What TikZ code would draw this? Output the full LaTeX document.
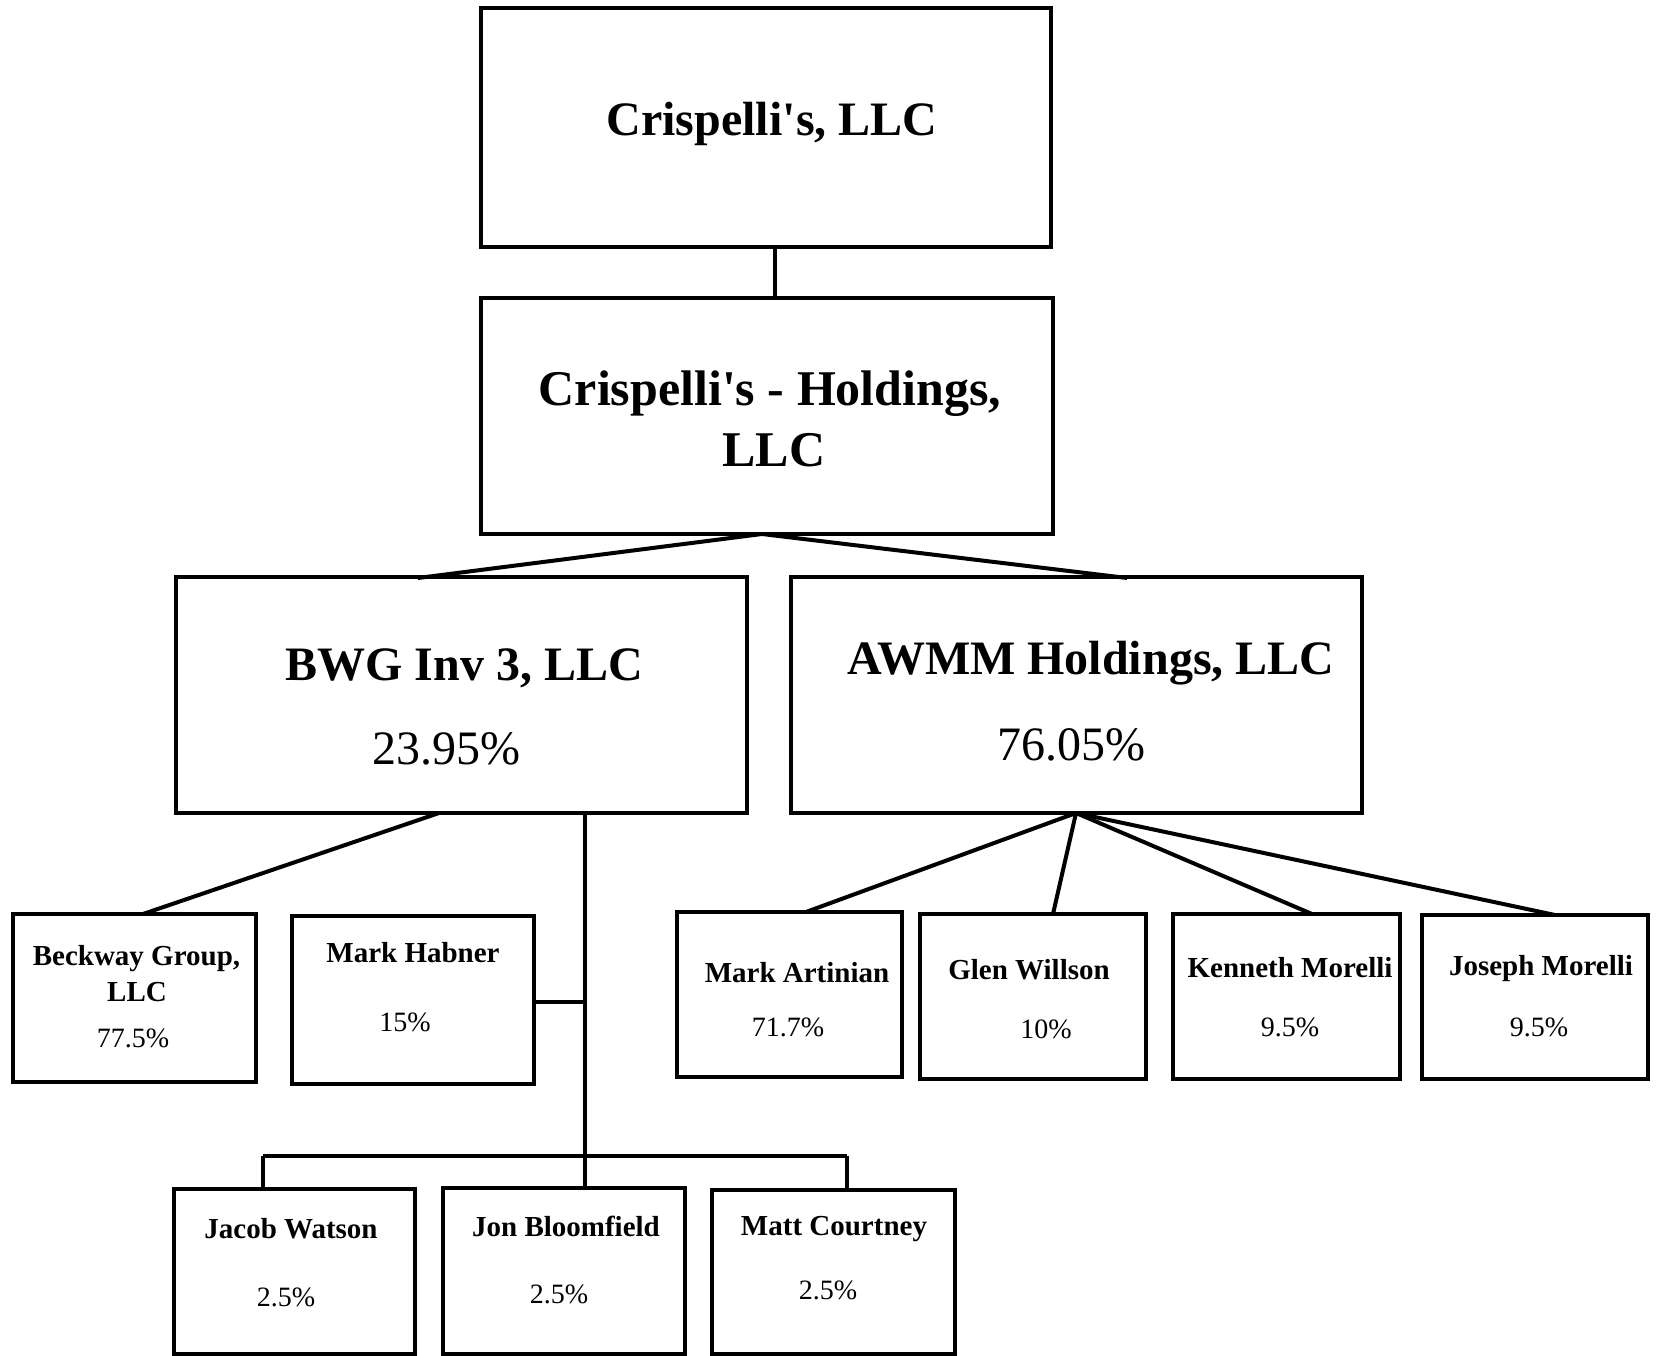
\documentclass[tikz,border=0pt]{standalone}
\usepackage{fontspec}
\setmainfont{Liberation Serif}
\begin{document}
\begin{tikzpicture}[x=1pt,y=-1pt,
  box/.style={draw,line width=3.5pt,inner sep=0pt},
  conn/.style={line width=4pt},
  bigname/.style={anchor=base,inner sep=0pt,font=\fontsize{48}{58}\selectfont\bfseries},
  bigpct/.style={anchor=base,inner sep=0pt,font=\fontsize{48}{58}\selectfont},
  smallname/.style={anchor=base,inner sep=0pt,font=\fontsize{29}{35}\selectfont\bfseries},
  smallpct/.style={anchor=base,inner sep=0pt,font=\fontsize{28}{34}\selectfont}]
\useasboundingbox[fill=white] (0,0) rectangle (1659,1356);

% boxes
\node[box,minimum width=570pt,minimum height=239pt] (top) at (766,127.5) {};
\node[box,minimum width=572pt,minimum height=236pt] (hold) at (767,416) {};
\node[box,minimum width=571pt,minimum height=236pt] (bwg) at (461.5,695) {};
\node[box,minimum width=571pt,minimum height=236pt] (awmm) at (1076.5,695) {};
\node[box,minimum width=243pt,minimum height=168pt] (beck) at (134.5,998) {};
\node[box,minimum width=242pt,minimum height=168pt] (habn) at (413,1000) {};
\node[box,minimum width=241pt,minimum height=165pt] (jacob) at (294.5,1271.5) {};
\node[box,minimum width=242pt,minimum height=166pt] (jon) at (564,1271) {};
\node[box,minimum width=243pt,minimum height=164pt] (matt) at (833.5,1272) {};
\node[box,minimum width=225pt,minimum height=165pt] (arti) at (789.5,994.5) {};
\node[box,minimum width=226pt,minimum height=165pt] (glen) at (1033,996.5) {};
\node[box,minimum width=227pt,minimum height=165pt] (kenn) at (1286.5,996.5) {};
\node[box,minimum width=226pt,minimum height=164pt] (jose) at (1535,997) {};

% texts
\node[bigname] (t1) at (772,136) {Crispelli\textquotesingle s, LLC};
\node[bigname,font=\fontsize{50}{60}\selectfont\bfseries] (t2a) at (770,405) {Crispelli\textquotesingle s - Holdings,};
\node[bigname,font=\fontsize{50}{60}\selectfont\bfseries] (t2b) at (774,466) {LLC};
\node[bigname] (t3) at (464,680) {BWG Inv 3, LLC};
\node[bigpct] (t3p) at (446,764) {23.95\%};
\node[bigname] (t4) at (1091,674) {AWMM Holdings, LLC};
\node[bigpct] (t4p) at (1071,760) {76.05\%};

\node[smallname] (b1a) at (136.5,965) {Beckway Group,};
\node[smallname] (b1b) at (137,1001) {LLC};
\node[smallpct] (b1p) at (133,1047) {77.5\%};
\node[smallname] (b2) at (413,962) {Mark Habner};
\node[smallpct] (b2p) at (405,1031) {15\%};
\node[smallname] (b3) at (291,1238) {Jacob Watson};
\node[smallpct] (b3p) at (286,1306) {2.5\%};
\node[smallname] (b4) at (566,1236) {Jon Bloomfield};
\node[smallpct] (b4p) at (559,1303) {2.5\%};
\node[smallname] (b5) at (834,1235) {Matt Courtney};
\node[smallpct] (b5p) at (828,1299) {2.5\%};
\node[smallname] (b6) at (797,982) {Mark Artinian};
\node[smallpct] (b6p) at (788,1036) {71.7\%};
\node[smallname] (b7) at (1029,979) {Glen Willson};
\node[smallpct] (b7p) at (1046,1038) {10\%};
\node[smallname] (b8) at (1290,977) {Kenneth Morelli};
\node[smallpct] (b8p) at (1290,1036) {9.5\%};
\node[smallname] (b9) at (1541,975) {Joseph Morelli};
\node[smallpct] (b9p) at (1539,1036) {9.5\%};

% connector points
\coordinate (c1) at (775,249);
\coordinate (hapex) at (762,534);
\coordinate (bwgin) at (418,578);
\coordinate (awmmin) at (1127,578);
\coordinate (bwgout) at (439,813);
\coordinate (beckin) at (143,914);
\coordinate (bwgv) at (585,813);
\coordinate (bus) at (585,1156);
\coordinate (busl) at (263,1156);
\coordinate (busr) at (847,1156);
\coordinate (habj) at (585,1002);
\coordinate (aapex) at (1076,813);

% connectors
\draw[conn] (c1) -- (c1 |- hold.north);
\draw[conn] (hapex) -- (bwgin);
\draw[conn] (hapex) -- (awmmin);
\draw[conn] (bwgout) -- (beckin);
\draw[conn] (bwgv) -- (bus);
\draw[conn] (habn.east |- habj) -- (habj);
\draw[conn] (busl) -- (busr);
\draw[conn] (busl) -- (busl |- jacob.north);
\draw[conn] (bus) -- (bus |- jon.north);
\draw[conn] (busr) -- (busr |- matt.north);
\draw[conn] (aapex) -- (806,912);
\draw[conn] (aapex) -- (1053,914);
\draw[conn] (aapex) -- (1312,914);
\draw[conn] (aapex) -- (1555,915);
\end{tikzpicture}
\end{document}
